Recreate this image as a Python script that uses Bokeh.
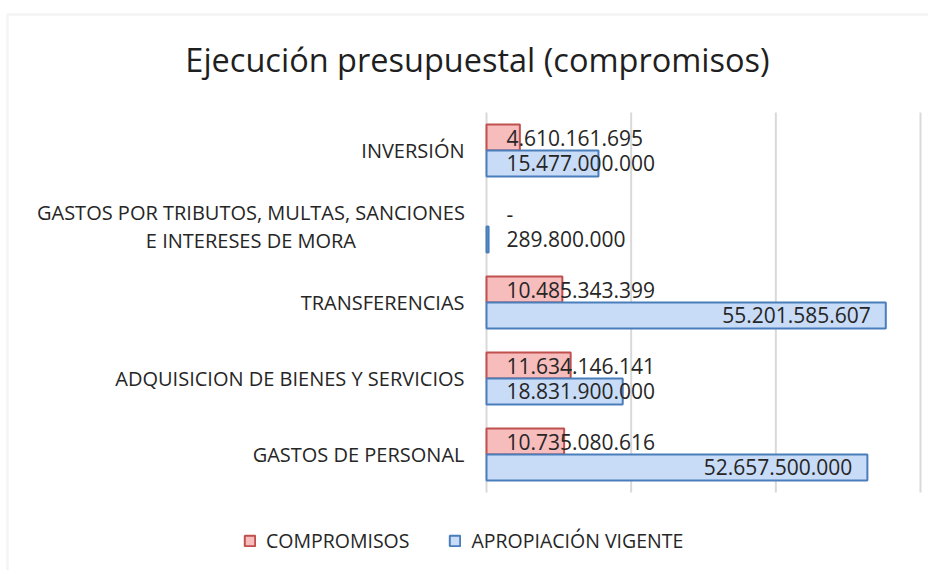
from bokeh.plotting import figure
from bokeh.models import (Range1d, Legend, LegendItem, ColumnDataSource, LabelSet, Label,
                          BoxAnnotation)
from bokeh.embed import file_html
from bokeh.resources import INLINE
from bokeh.core.properties import value

# ---- data ----
categories = ["GASTOS DE PERSONAL",
              "ADQUISICION DE BIENES Y SERVICIOS",
              "TRANSFERENCIAS",
              "GASTOS POR TRIBUTOS, MULTAS, SANCIONES\nE INTERESES DE MORA",
              "INVERSIÓN"]
compromisos = [10735080616, 11634146141, 10485343399, 0, 4610161695]
apropiacion = [52657500000, 18831900000, 55201585607, 289800000, 15477000000]
series_names = ["COMPROMISOS", "APROPIACIÓN VIGENTE"]
x_ticks = [0, 20e9, 40e9, 60e9]
title_text = "Ejecución presupuestal (compromisos)"

# ---- style / layout ----
FONT = "Open Sans"
RED_FILL, RED_LINE = "#f7bcbc", "#c0504d"
BLUE_FILL, BLUE_LINE = "#c8dbf7", "#4a7ebb"
TXT = "#262626"
GRID = "#d9d9d9"

W, H = 928, 570
X0 = 486            # pixel column of value 0
PX = 434 / 60e9     # pixels per unit of value
Y0 = 492            # pixel row (from top) of the bottom of the category bands
BAND = 76           # pixels per category band
BH, OFF = 0.342, 0.171
LINE_STEP = 0.178   # half distance between lines of a two-line category label
CAT_FS, LBL_FS = 20, 21


def fmt(v):
    return "-" if v == 0 else f"{v:,}".replace(",", ".")


p = figure(width=W, height=H, output_backend="svg", toolbar_location=None,
           x_range=Range1d(-X0 / PX, (W - X0) / PX),
           y_range=Range1d(-(H - Y0) / BAND, Y0 / BAND),
           x_axis_location=None, y_axis_location=None,
           min_border=0, min_border_left=0, min_border_right=0,
           min_border_top=0, min_border_bottom=0)
p.outline_line_color = None
p.grid.visible = False
p.background_fill_color = "white"
p.border_fill_color = "white"

# chart-area border
p.add_layout(BoxAnnotation(left=7, right=W + 20, bottom=-20, top=H - 14,
                           left_units="screen", right_units="screen",
                           bottom_units="screen", top_units="screen",
                           fill_alpha=0, line_color=GRID, line_width=2.5))

n = len(categories)
ypos = [i + 0.5 for i in range(n)]

# vertical gridlines
p.segment(x0=x_ticks, y0=[0] * len(x_ticks), x1=x_ticks, y1=[n] * len(x_ticks),
          line_color=GRID, line_width=2)

src = ColumnDataSource(dict(y_c=[y + OFF for y in ypos], y_a=[y - OFF for y in ypos],
                            comp=compromisos, apro=apropiacion,
                            la_c=[0.0 if v == 0 else 1.0 for v in compromisos],
                            la_a=[0.0 if v == 0 else 1.0 for v in apropiacion]))
r_comp = p.hbar(y="y_c", left=0, right="comp", height=BH, source=src,
                fill_color=RED_FILL, line_color=RED_LINE, line_width=2, line_alpha="la_c")
r_apro = p.hbar(y="y_a", left=0, right="apro", height=BH, source=src,
                fill_color=BLUE_FILL, line_color=BLUE_LINE, line_width=2, line_alpha="la_a")

# data labels
thr = 0.5 * max(x_ticks)
rows = {"left": dict(x=[], y=[], text=[]), "right": dict(x=[], y=[], text=[])}
for y, a, b in zip(ypos, compromisos, apropiacion):
    for v, yy in ((a, y + OFF), (b, y - OFF)):
        k = "right" if v > thr else "left"
        rows[k]["x"].append(v if v > thr else 0)
        rows[k]["y"].append(yy)
        rows[k]["text"].append(fmt(v))
for k, xo in (("left", 20), ("right", -15)):
    p.add_layout(LabelSet(x="x", y="y", text="text", source=ColumnDataSource(rows[k]),
                          x_offset=xo, text_align=k, text_baseline="middle",
                          text_font=value(FONT), text_font_size=f"{LBL_FS}px",
                          text_color=TXT))

# category labels (single line: right aligned; several lines: each line centred)
single = dict(x=[], y=[], text=[])
multi = dict(x=[], y=[], text=[])
longest = 0
for y, c in zip(ypos, categories):
    lines = c.split("\n")
    if len(lines) == 1:
        single["x"].append(0)
        single["y"].append(y)
        single["text"].append(c)
    else:
        m = len(lines)
        for j, line in enumerate(lines):
            multi["x"].append(0)
            multi["y"].append(y + LINE_STEP * (m - 1 - 2 * j))
            multi["text"].append(line)
            longest = max(longest, len(line))
p.add_layout(LabelSet(x="x", y="y", text="text", source=ColumnDataSource(single),
                      x_offset=-22, text_align="right", text_baseline="middle",
                      text_font=value(FONT), text_font_size=f"{CAT_FS}px", text_color=TXT))
half_w = 0.281 * CAT_FS * longest
p.add_layout(LabelSet(x="x", y="y", text="text", source=ColumnDataSource(multi),
                      x_offset=-22 - half_w, text_align="center", text_baseline="middle",
                      text_font=value(FONT), text_font_size=f"{CAT_FS}px", text_color=TXT))

# title
p.add_layout(Label(x=477, y=H - 59, x_units="screen", y_units="screen", text=title_text,
                   text_align="center", text_baseline="middle", text_font=FONT,
                   text_font_size="32.5px", text_color="#1f1f1f"))

# legend
legend = Legend(items=[LegendItem(label=series_names[0], renderers=[r_comp]),
                       LegendItem(label=series_names[1], renderers=[r_apro])],
                orientation="horizontal", location=(243, H - 554),
                glyph_width=13, glyph_height=13, label_standoff=10, spacing=39,
                padding=0, margin=0, border_line_color=None, background_fill_alpha=0,
                label_text_font=FONT, label_text_font_size="19.5px", label_text_color=TXT,
                label_height=20)
p.add_layout(legend, "center")

open("out.html", "w").write(file_html(p, INLINE))
